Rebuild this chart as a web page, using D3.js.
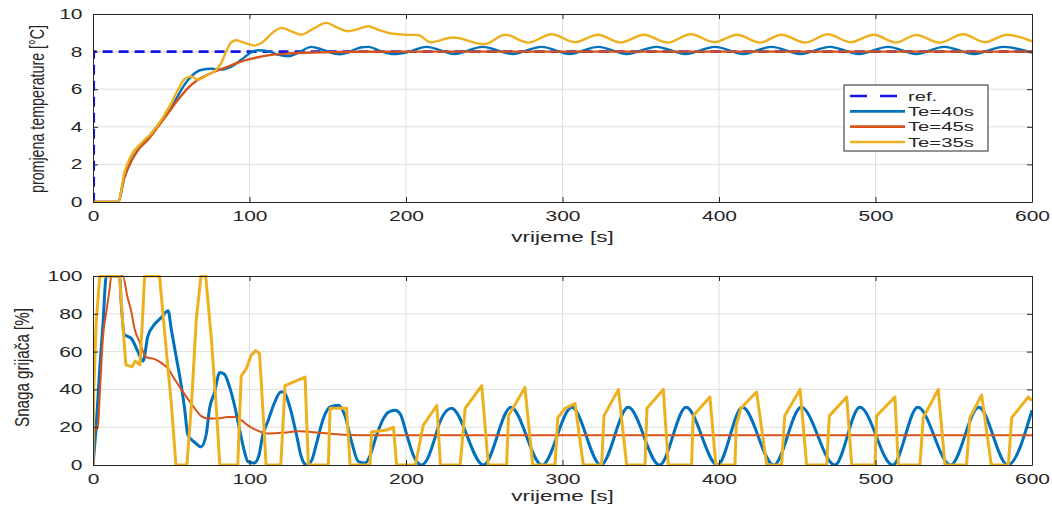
<!DOCTYPE html>
<html><head><meta charset="utf-8">
<script src="https://cdn.jsdelivr.net/npm/d3@7"></script>
<style>
body{margin:0;background:#fff;}
svg{display:block;font-family:"Liberation Sans",Arial,sans-serif;}
</style></head>
<body>
<svg id="chart" width="1052" height="507"></svg>
<script>
// ---------- DATA ----------
const xTicks = [0,100,200,300,400,500,600];
const tempTicks = [0,2,4,6,8,10];
const powerTicks = [0,20,40,60,80,100];
const seriesNames = ["ref.","Te=40s","Te=45s","Te=35s"];
const xLabel = "vrijeme [s]";
const tempLabel = "promjena temperature [°C]";
const powerLabel = "Snaga grijača [%]";

const tempRef = [[0,0],[0.5,0],[0.5,8],[600,8]];

const temp40 = [[0,0],[16,0],[20,1.3],[24.5,2.2],[29,2.8],[35,3.4],[41.5,4.1],[48,4.75],[52,5.3],[56.4,5.97],[62.8,6.68],[69,7.02],[75.6,7.09],[82,7.04],[88.4,7.2],[94.8,7.57],[101,7.96],[105.5,8.07],[112,8.02],[118,7.84],[124.6,7.75],[131,7.93],[139.5,8.25],[146,8.12],[154,7.9],[158,7.86],[163,7.95],[171,8.22],[176,8.25],[184,8.02],[192,7.87],[200,7.95],[213,8.25],[231,7.87],[249,8.25],[268,7.87],[286.6,8.25],[304.6,7.87],[322.7,8.25],[341,7.87],[360,8.25],[378.7,7.87],[397.4,8.25],[415.5,7.87],[433.5,8.25],[452,7.87],[470.9,8.25],[489.5,7.87],[508,8.25],[526,7.87],[544,8.25],[563,7.87],[581.7,8.25],[600,7.95]];

const temp45 = [[0,0],[16,0],[20,1.3],[24.5,2.2],[29,2.8],[35,3.3],[41.5,4.0],[48,4.73],[54.3,5.44],[60.7,6.06],[67,6.5],[75.6,6.86],[86.3,7.2],[94.8,7.48],[103.3,7.66],[111.8,7.8],[124.6,7.9],[146,7.96],[167,7.99],[200,8.0],[600,8.0]];

const temp35 = [[0,0],[16,0],[20.2,1.6],[24.5,2.5],[30.9,3.13],[37.3,3.66],[43.7,4.37],[50,5.26],[54.3,5.97],[58.6,6.54],[62.8,6.68],[67,6.5],[73.5,6.77],[78.8,7.04],[82,7.4],[85.2,8.02],[88.4,8.5],[91.6,8.6],[97,8.46],[103.3,8.32],[107.6,8.46],[116,9.08],[120.3,9.26],[126.7,9.08],[133,8.9],[141.6,9.26],[149,9.53],[156.5,9.26],[163,9.08],[169.3,9.2],[175.7,9.35],[182,9.17],[190.6,8.96],[199,8.9],[207.7,8.88],[215.7,8.5],[230,8.75],[250,8.4],[263.4,8.9],[278,8.48],[293,8.92],[308,8.5],[322.7,8.9],[337,8.48],[352,8.9],[367,8.48],[382,8.92],[397,8.5],[411.6,8.9],[426,8.48],[440,8.9],[455,8.48],[469.6,8.92],[484,8.5],[499,8.9],[513,8.48],[526,8.88],[541,8.48],[556,8.92],[570,8.5],[584,8.9],[600,8.55]];

const power40 = [[0,0],[2,20],[4.3,51],[6.4,75],[8.5,100],[17,100],[18,86],[20,69],[24.5,67],[28.7,60],[32,55],[35,68],[39.4,74.5],[43.6,78],[48,81.6],[50,72],[53,58],[56.4,42],[58.5,30],[60.6,16],[65,12],[69,9.6],[72.3,16],[74.5,30],[77.7,38.6],[81,49],[84,48],[87,42],[90.4,31.6],[93.6,19],[96.8,7],[99,1.8],[103,1],[106,5],[108.5,16],[111.7,23],[116,33],[120,38.6],[121.6,38.6],[126,30],[130,16],[133.4,3.5],[136.6,0],[139.8,2.6],[143,12],[147.2,24.6],[151.5,30.7],[156.8,31.6],[161,26],[165.3,12],[169.6,1.8],[173.9,1],[177,5],[181.3,16],[185.6,24.6],[188.8,28],[193,29],[196.3,27],[200.5,16],[204.8,5],[210,0],[213.3,2.6],[217.6,12],[221.8,23],[229,30],[249.5,0],[267,30.5],[287,0],[306,30.5],[324.5,0],[342,30.5],[362,0],[379,30.5],[399,0],[415,30.5],[435,0],[452.5,30.5],[474,0],[490,30.5],[511,0],[527,30.5],[548,0],[566,30.5],[584.5,0],[600,29]];

const power45 = [[0,0],[1,19],[3,19],[4.3,37],[6.4,68],[8.5,81],[10.6,93],[11.7,100],[19,100],[22,89],[24.5,81],[26.6,72],[29.8,65],[32,60],[34,57],[39.4,56],[43.6,54],[48,51],[52,45.6],[56.4,40],[60.6,35],[65,30],[69,26],[73.4,24.6],[79.8,24.6],[86,25.4],[90.4,25.4],[94.7,23.7],[99,21],[103,19],[107.4,17.5],[111.7,16.7],[120,17],[132,17.8],[145,17],[160,16],[180,15.7],[600,15.7]];

const power35 = [[0,0],[0.5,40],[2,75],[4.3,100],[17,100],[19,75],[21,53],[25,52],[27,55],[30,53],[31.5,75],[33,100],[42.5,100],[46,68],[50,33],[53,0],[60,0],[63,33],[66,77],[69,100],[72,100],[75.5,68],[79,28],[81,0],[92.5,0],[94.7,47],[98,51],[101,58],[104,60.5],[106.4,59],[108.5,30],[110.6,0],[120,0],[122.7,42],[135.5,46.5],[137.6,0],[150.4,0],[151.5,30],[162,30],[164.3,0],[177,0],[178,17.5],[187.7,18.5],[192,20],[194,0],[206,0],[211,21],[219.7,31.5],[222,0],[234.6,0],[237.8,30],[248.4,42],[252.6,0],[264.3,0],[265.5,26],[276,41],[281,0],[295.2,0],[297,25],[301.6,30],[308,32.5],[313.3,0],[325,0],[326.5,26],[335.7,40],[341,0],[352.7,0],[354,30],[364.4,40],[367.6,0],[382.5,0],[383.5,26],[394.2,36],[398,0],[410.2,0],[411,21],[414,30],[424,38.6],[430.5,0],[440,0],[442,26],[451.8,40],[456,0],[468.8,0],[470.5,26],[481.6,36],[484.8,0],[499.7,0],[500.7,26],[512.4,36],[514.6,0],[528.4,0],[530.5,25],[540.1,40],[544.4,0],[558.2,0],[560.3,25],[567.8,37],[574,0],[584.9,0],[587,25],[597.6,36],[600,34]];

// ---------- STYLE ----------
const COLORS = {ref:"#1414e6", b:"#0072BD", o:"#D95319", y:"#EDB120"};
const AXC = "#262626";
const GRID = "#dedede";
const SX = 1.5; // horizontal stretch of the original picture's text

const svg = d3.select("#chart");
svg.append("rect").attr("width",1052).attr("height",507).attr("fill","#fff");

function panel(cfg){
  const x = d3.scaleLinear().domain([0,600]).range([cfg.left,cfg.right]);
  const y = d3.scaleLinear().domain(cfg.ydom).range([cfg.bottom,cfg.top]);
  const g = svg.append("g");
  // grid
  g.append("g").selectAll("line").data(xTicks.slice(1,-1)).join("line")
    .attr("x1",d=>x(d)).attr("x2",d=>x(d)).attr("y1",cfg.top).attr("y2",cfg.bottom)
    .attr("stroke",GRID).attr("stroke-width",1);
  g.append("g").selectAll("line").data(cfg.yticks.slice(1,-1)).join("line")
    .attr("y1",d=>y(d)).attr("y2",d=>y(d)).attr("x1",cfg.left).attr("x2",cfg.right)
    .attr("stroke",GRID).attr("stroke-width",1);
  // clip
  const cid = "clip"+cfg.id;
  svg.append("clipPath").attr("id",cid).append("rect")
    .attr("x",cfg.left).attr("y",cfg.top-1).attr("width",cfg.right-cfg.left).attr("height",cfg.bottom-cfg.top+2);
  const sg = g.append("g").attr("clip-path",`url(#${cid})`);
  cfg.series.forEach(s=>{
    const line = d3.line().x(d=>x(d[0])).y(d=>y(d[1])).curve(s.curve||d3.curveLinear);
    sg.append("path").datum(s.data).attr("d",line).attr("fill","none")
      .attr("stroke",s.color).attr("stroke-width",s.width)
      .attr("stroke-dasharray",s.dash||null).attr("stroke-linejoin","round");
  });
  // axes
  const fontSize = 14;
  const ab = g.append("g").attr("transform",`translate(0,${cfg.bottom})`)
    .call(d3.axisBottom(x).tickValues(xTicks).tickSizeInner(-5).tickSizeOuter(0).tickPadding(9));
  const at = g.append("g").attr("transform",`translate(0,${cfg.top})`)
    .call(d3.axisTop(x).tickValues(xTicks).tickSizeInner(-5).tickSizeOuter(0).tickFormat(""));
  const al = g.append("g").attr("transform",`translate(${cfg.left},0)`)
    .call(d3.axisLeft(y).tickValues(cfg.yticks).tickSizeInner(-5).tickSizeOuter(0).tickPadding(7));
  const ar = g.append("g").attr("transform",`translate(${cfg.right},0)`)
    .call(d3.axisRight(y).tickValues(cfg.yticks).tickSizeInner(-5).tickSizeOuter(0).tickFormat(""));
  [ab,at,al,ar].forEach(a=>{
    a.selectAll("path,line").attr("stroke",AXC).attr("stroke-width",1);
    a.selectAll("text").attr("fill",AXC).attr("font-size",fontSize)
      .attr("font-family","Liberation Sans, Arial, sans-serif")
      .attr("transform",`scale(${SX},1)`);
  });
  // x label
  g.append("text").attr("transform",`translate(${(cfg.left+cfg.right)/2},${cfg.xlabY}) scale(${SX},1)`)
    .attr("text-anchor","middle").attr("font-size",15).attr("fill",AXC).text(xLabel);
  // y label
  g.append("text").attr("transform",`translate(${cfg.ylabX},${(cfg.top+cfg.bottom)/2 + cfg.ylabDy}) scale(${SX},1) rotate(-90)`)
    .attr("text-anchor","middle").attr("dy","0.35em").attr("font-size",14).attr("fill",AXC)
    .attr("textLength",cfg.ylabLen).attr("lengthAdjust","spacingAndGlyphs")
    .text(cfg.ylabel);
  return {x,y,g};
}

panel({id:"t",left:93,right:1032,top:14,bottom:202,ydom:[0,10],yticks:tempTicks,
  xlabY:242, ylabX:37, ylabDy:1, ylabLen:168, ylabel:tempLabel,
  series:[
    {data:tempRef,color:COLORS.ref,width:2.6,dash:"10,6"},
    {data:temp40,color:COLORS.b,width:2.4,curve:d3.curveMonotoneX},
    {data:temp45,color:COLORS.o,width:2.4,curve:d3.curveMonotoneX},
    {data:temp35,color:COLORS.y,width:2.4,curve:d3.curveMonotoneX}
  ]});

panel({id:"b",left:93,right:1032,top:276,bottom:465,ydom:[0,100],yticks:powerTicks,
  xlabY:501, ylabX:22, ylabDy:-3, ylabLen:119, ylabel:powerLabel,
  series:[
    {data:power40,color:COLORS.b,width:3,curve:d3.curveMonotoneX},
    {data:power45,color:COLORS.o,width:2,curve:d3.curveMonotoneX},
    {data:power35,color:COLORS.y,width:3}
  ]});

// legend
const leg = svg.append("g");
leg.append("rect").attr("x",844).attr("y",85).attr("width",144).attr("height",66)
  .attr("fill","#fff").attr("stroke",AXC).attr("stroke-width",1);
const legItems = [
  {name:seriesNames[0],color:COLORS.ref,dash:"17,13"},
  {name:seriesNames[1],color:COLORS.b},
  {name:seriesNames[2],color:COLORS.o},
  {name:seriesNames[3],color:COLORS.y}
];
const legY = d3.scalePoint().domain(legItems.map(d=>d.name)).range([96,142]);
legItems.forEach(d=>{
  leg.append("line").attr("x1",850).attr("x2",905).attr("y1",legY(d.name)).attr("y2",legY(d.name))
    .attr("stroke",d.color).attr("stroke-width",2.6).attr("stroke-dasharray",d.dash||null);
  leg.append("text").attr("transform",`translate(908,${legY(d.name)}) scale(${SX},1)`)
    .attr("dy","0.35em").attr("font-size",13.5).attr("fill",AXC).text(d.name);
});
</script>
</body></html>
